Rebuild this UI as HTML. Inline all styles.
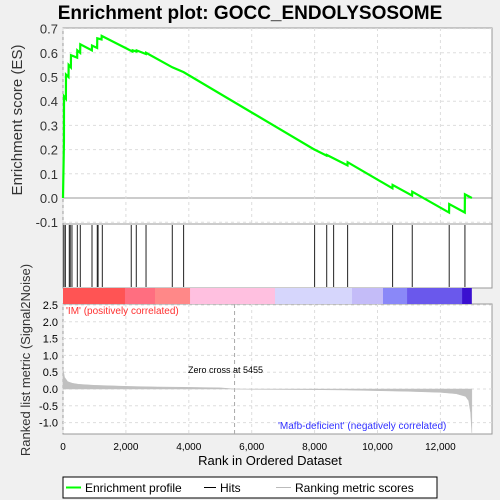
<!DOCTYPE html>
<html><head><meta charset="utf-8"><style>
html,body{margin:0;padding:0;background:#f0f0f0;}
svg{display:block;font-family:"Liberation Sans","DejaVu Sans",sans-serif;}
</style></head><body>
<svg id="chart" width="500" height="500" viewBox="0 0 500 500">
<rect x="0" y="0" width="500" height="500" fill="#f0f0f0"/>
<text x="250" y="19" text-anchor="middle" font-size="19" font-weight="bold" fill="#000">Enrichment plot: GOCC_ENDOLYSOSOME</text>
<rect x="63" y="28" width="429" height="196" fill="#fff" stroke="#999"/>
<rect x="63" y="224" width="429" height="64" fill="#fff" stroke="#999"/>
<rect x="63" y="304" width="429" height="130" fill="#fff" stroke="#999"/>
<g id="grid"></g>
<g id="esaxis"></g>
<g id="hits"></g>
<g id="colorbar"></g>
<g id="metric"></g>
<g id="xaxis"></g>
<polyline id="esline" fill="none" stroke="#00ff00" stroke-width="2.2"/>
<text x="22" y="120" transform="rotate(-90 22 120)" text-anchor="middle" font-size="15" fill="#333">Enrichment score (ES)</text>
<text x="30" y="360" transform="rotate(-90 30 360)" text-anchor="middle" font-size="13" fill="#333">Ranked list metric (Signal2Noise)</text>
<text x="270" y="465" text-anchor="middle" font-size="13" fill="#000">Rank in Ordered Dataset</text>
<text x="66" y="314" font-size="10" fill="#ff3030">'IM' (positively correlated)</text>
<text x="278" y="429" font-size="10" fill="#3030ff">'Mafb-deficient' (negatively correlated)</text>
<text x="188" y="373" font-size="9" fill="#000">Zero cross at 5455</text>
<g>
<rect x="63" y="477" width="374" height="21" fill="#fff" stroke="#000"/>
<line x1="66" y1="487.5" x2="81" y2="487.5" stroke="#00ff00" stroke-width="2"/>
<text x="85" y="492" font-size="12">Enrichment profile</text>
<line x1="204" y1="487.5" x2="216" y2="487.5" stroke="#000" stroke-width="1"/>
<text x="220" y="492" font-size="12">Hits</text>
<line x1="276" y1="487.5" x2="291" y2="487.5" stroke="#bbb" stroke-width="1"/>
<text x="295" y="492" font-size="12">Ranking metric scores</text>
</g>
</svg>
<script>
const profileRanks=[0,30,32,92,95,175,180,250,254,450,455,545,550,918,922,1085,1090,1225,1230,2210,2215,2335,2340,2635,2640,3475,3835,7995,8000,8380,8385,9045,9050,10475,10480,11100,11105,12275,12280,12775,12780,13000];
const profileES=[0,0.23,0.42,0.41,0.51,0.50,0.55,0.54,0.59,0.58,0.61,0.60,0.635,0.61,0.63,0.62,0.66,0.655,0.67,0.605,0.61,0.605,0.61,0.595,0.60,0.54,0.52,0.20,0.20,0.175,0.178,0.135,0.148,0.04,0.054,0.01,0.026,-0.06,-0.025,-0.06,0.015,0.0];
const hitRanks=[30,75,200,230,285,455,550,922,1090,1115,1250,2170,2330,2640,3475,3835,8000,8385,8605,9050,10480,11105,12280,12780];
const metricRanks=[0,50,150,300,500,1000,2000,3000,4000,5000,5455,6000,8000,9000,10000,11000,12000,12500,12800,12900,12960,13000];
const metricVals=[0.6,0.35,0.22,0.17,0.14,0.11,0.08,0.06,0.05,0.035,0,-0.01,-0.02,-0.03,-0.05,-0.07,-0.1,-0.14,-0.22,-0.35,-0.7,-1.3];
const esTicks=[-0.1,0,0.1,0.2,0.3,0.4,0.5,0.6,0.7];
const metricTicks=[-1.0,-0.5,0.0,0.5,1.0,1.5,2.0,2.5];
const rankTicks=[0,2000,4000,6000,8000,10000,12000];
const rankTickLabels=["0","2,000","4,000","6,000","8,000","10,000","12,000"];
const colorStops=[0,1970,2925,4040,6740,9190,10175,10940,12690,12990];
const colorFills=["#ff5454","#ff6e80","#ff8888","#ffc0e0","#d6d6fc","#c4bcf8","#8a88f8","#6a58ec","#3a10d0"];

const NS="http://www.w3.org/2000/svg";
const X=r=>63+r*0.03145;
const Yes=v=>198-v*242;
const Ym=v=>389-v*33.6;
function mk(tag,attrs,parent){const e=document.createElementNS(NS,tag);for(const k in attrs)e.setAttribute(k,attrs[k]);parent.appendChild(e);return e;}
const grid=document.getElementById('grid');
const esaxis=document.getElementById('esaxis');
esTicks.forEach(v=>{
  const y=Yes(v);
  const g=mk('line',{x1:63,x2:492,y1:y,y2:y,stroke:v===0?'#999':'#ddd','stroke-dasharray':v===0?'':'3,3'},grid);
  
  
  const t=mk('text',{x:58,y:y+5,'text-anchor':'end','font-size':13,fill:'#333'},esaxis);
  t.textContent=v.toFixed(1);
  
  
});
metricTicks.forEach(v=>{
  const y=Ym(v);
  const g=mk('line',{x1:63,x2:492,y1:y,y2:y,stroke:'#ddd','stroke-dasharray':'3,3'},grid);
  
  
  const t=mk('text',{x:58,y:y+4,'text-anchor':'end','font-size':11,fill:'#000'},esaxis);
  t.textContent=v.toFixed(1);
  
  
});
const xaxis=document.getElementById('xaxis');
rankTicks.forEach((r,i)=>{
  const x=X(r);
  [[28,224],[304,434]].forEach(([a,b])=>{
    const g=mk('line',{x1:x,x2:x,y1:a,y2:b,stroke:'#ddd','stroke-dasharray':'3,3'},grid);
    
    
  });
  const t=mk('text',{x:x,y:450,'text-anchor':'middle','font-size':10,fill:'#000'},xaxis);
  t.textContent=rankTickLabels[i];
  
  
});
const zl=mk('line',{x1:X(5455),x2:X(5455),y1:304,y2:434,stroke:'#aaa','stroke-dasharray':'4,3'},grid);


const hits=document.getElementById('hits');
hitRanks.forEach(r=>{
  const l=mk('line',{x1:X(r),x2:X(r),y1:225,y2:287,stroke:'#222','stroke-width':1},hits);
  
  
});
const cb=document.getElementById('colorbar');
for(let i=0;i<colorFills.length;i++){
  const a=colorStops[i],b=colorStops[i+1];
  const r=mk('rect',{x:X(a),y:288,width:X(b)-X(a)+0.3,height:16,fill:colorFills[i]},cb);
  
  
}
const m=document.getElementById('metric');
let d='M'+X(0)+','+Ym(0);
metricRanks.forEach((r,i)=>{d+=' L'+X(r).toFixed(2)+','+Ym(metricVals[i]).toFixed(2);});
d+=' L'+X(13000)+','+Ym(0)+' Z';
const mp=mk('path',{d:d,fill:'#c0c0c0',stroke:'#c0c0c0','stroke-width':0.5},m);


document.getElementById('esline').setAttribute('points',profileRanks.map((r,i)=>X(r).toFixed(2)+','+Yes(profileES[i]).toFixed(2)).join(' '));
</script>
</body></html>
